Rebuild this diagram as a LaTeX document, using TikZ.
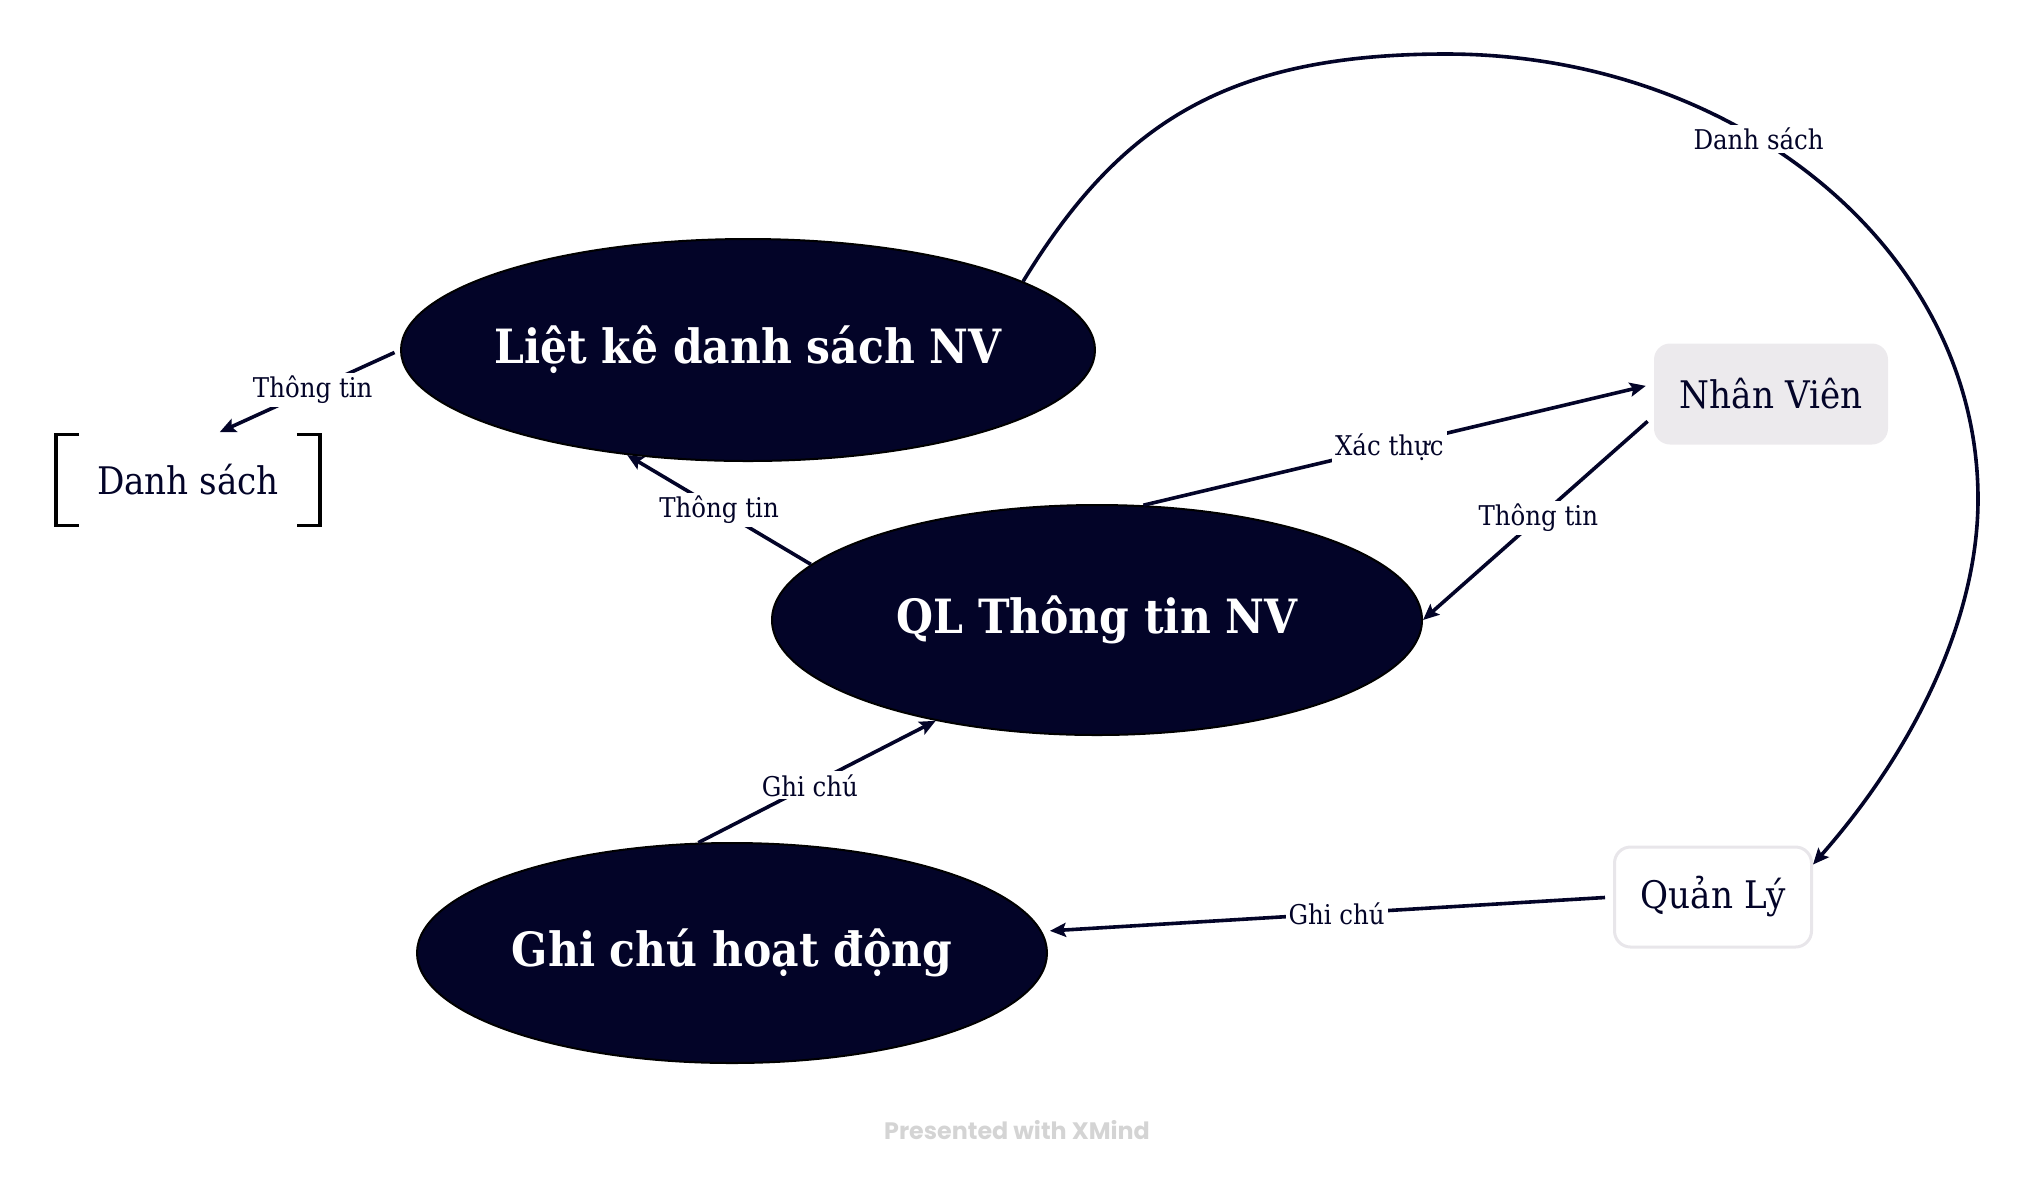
\documentclass[tikz,border=0pt]{standalone}
\usepackage{fontspec}
\setmainfont{DejaVu Serif Condensed}
\newfontfamily\wmfont{Poppins}
\usetikzlibrary{shapes.geometric,arrows.meta}

\definecolor{navy}{RGB}{3,4,40}
\definecolor{nvgray}{RGB}{236,234,237}
\definecolor{qlgray}{RGB}{232,230,234}
\definecolor{wmgray}{RGB}{212,212,212}

\tikzset{
    proc/.style={ellipse, draw=black, line width=1pt, fill=navy, text=white,
        inner xsep=-120pt, inner ysep=0pt, font=\fontsize{23.6}{28}\selectfont\bfseries},
    flow/.style={draw=navy, line width=1.8pt, -{Stealth[length=8pt,width=7pt,inset=1.5pt]}},
    lbl/.style={fill=white, inner sep=1.5pt, text=navy, font=\fontsize{13.6}{16}\selectfont},
    actor/.style={rounded corners=8pt, text=navy, font=\fontsize{19}{22}\selectfont},
    bracket/.style={draw=black, line width=1.7pt}
}

\begin{document}
\begin{tikzpicture}[x=0.5pt, y=-0.5pt]
    \useasboundingbox (0,0) rectangle (2034,1180);

    % Draw the three processes
    \node[proc, minimum width=347pt, minimum height=111pt] (lietke) at (748,350) {Liệt kê danh sách NV};
    \node[proc, minimum width=325pt, minimum height=115pt] (qltt) at (1097,620) {QL Thông tin NV};
    \node[proc, minimum width=315pt, minimum height=110pt] (ghichu) at (732,953) {Ghi chú hoạt động};

    % Draw the data store with its brackets
    \node[text=navy, font=\fontsize{19}{22}\selectfont, minimum width=131.5pt, minimum height=45pt] (dsach) at (188,480) {Danh sách};
    \draw[bracket] ([xshift=11.5pt]dsach.north west) -| (dsach.south west) -- ++(11.5pt,0);
    \draw[bracket] ([xshift=-11.5pt]dsach.north east) -| (dsach.south east) -- ++(-11.5pt,0);

    % Draw the two actors
    \node[actor, fill=nvgray, minimum width=117pt, minimum height=50.5pt] (nhanvien) at (1771,394) {Nhân Viên};
    \node[actor, draw=qlgray, line width=1.5pt, fill=white, minimum width=98.5pt, minimum height=50pt] (quanly) at (1713,897) {Quản Lý};

    % Draw the flows between them
    \draw[flow, shorten <=3pt, shorten >=3pt] (lietke.west) -- node[lbl, pos=0.47] {Thông tin} (dsach.60);
    \draw[flow] (qltt.169) -- node[lbl] {Thông tin} (lietke.-139.6);
    \draw[flow, shorten >=4pt] (qltt.68) -- node[lbl, pos=0.482] {Xác thực} ([yshift=5pt]nhanvien.west);
    \draw[flow, shorten <=4pt] ([yshift=-11pt]nhanvien.west) -- node[lbl] {Thông tin} (qltt.east);
    \draw[flow] (ghichu.107) -- node[lbl, pos=0.47] {Ghi chú} (qltt.-148);
    \draw[flow, shorten <=4pt, shorten >=4pt] (quanly.west) -- node[lbl, pos=0.484] {Ghi chú} (ghichu.4);

    % Draw the long arc from the list to the manager
    \draw[flow] (lietke.14.5) .. controls (1119,124) and (1226,54) .. (1446,54)
        .. controls (1736,54) and (1978,249) .. (1978,499) node[lbl, pos=0.4] {Danh sách}
        .. controls (1978,619) and (1914,750) .. (quanly.18);

    % Footer
    \node[text=wmgray, font=\wmfont\bfseries\fontsize{11.9}{14}\selectfont] (footer) at (1017,1130) {Presented with XMind};
\end{tikzpicture}
\end{document}
